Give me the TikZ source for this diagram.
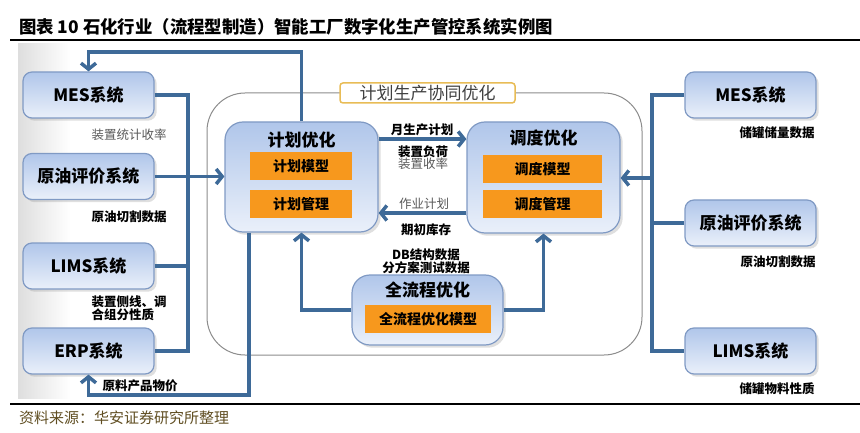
\documentclass[tikz,border=0pt]{standalone}
\usepackage{fontspec}
\setmainfont{Noto Sans CJK SC}
\usetikzlibrary{arrows.meta,shadows}
\definecolor{linkblue}{RGB}{62,106,152}
\definecolor{boxtop}{RGB}{176,198,234}
\definecolor{boxbot}{RGB}{234,240,250}
\definecolor{boxline}{RGB}{128,154,196}
\definecolor{modorange}{RGB}{247,152,29}
\definecolor{tagline}{RGB}{232,188,86}
\definecolor{srcbrown}{RGB}{96,78,34}

\begin{document}
\begin{tikzpicture}[x=1pt,y=-1pt,
  sys/.style={rounded corners=9pt,draw=boxline,line width=1.2pt,top color=boxtop,bottom color=boxbot,
    drop shadow={opacity=.25},minimum width=131pt,minimum height=46pt,inner sep=0pt,
    font=\fontsize{17}{17}\selectfont\bfseries},
  opt/.style={sys,rounded corners=18pt},
  ttl/.style={inner sep=0pt,font=\fontsize{17}{17}\selectfont\bfseries},
  mdl/.style={fill=modorange,inner sep=0pt,minimum height=28pt,font=\fontsize{14}{14}\selectfont\bfseries},
  lbl/.style={inner sep=0pt,align=left,font=\fontsize{12.5}{13}\selectfont\bfseries},
  thin/.style={inner sep=0pt,text=black!65,font=\fontsize{12.5}{13}\selectfont},
  link/.style={draw=linkblue,line width=3.5pt},
  tip/.style={-{Straight Barb[length=6pt,width=15pt]}}
]
\useasboundingbox (0,0) rectangle (860,433);
\shade[left color=black!13,right color=white] (18,44) rectangle (70,398);

\node[anchor=west,inner sep=0pt,font=\fontsize{17.4}{18}\selectfont\bfseries] (title) at (19,27)
  {图表 10 石化行业（流程型制造）智能工厂数字化生产管控系统实例图};
\draw[line width=1.5pt] (10,40) -- (860,40);
\draw[line width=1.5pt] (10,404) -- (860,404);
\node[anchor=west,inner sep=0pt,text=srcbrown,font=\fontsize{15}{15}\selectfont] (src) at (19,418)
  {资料来源：华安证券研究所整理};

\draw[black!45,line width=1pt,rounded corners=38pt] (207,93) rectangle (642,355);
\node[draw=tagline,line width=1.5pt,fill=white,rounded corners=3pt,minimum width=175pt,minimum height=20pt,
  inner sep=0pt,text=black!75,font=\fontsize{17}{17}\selectfont] (tag) at (427.5,93) {计划生产协同优化};

\node[sys] (mesL) at (88.5,95) {MES系统};
\node[sys] (crudeL) at (88.5,176.5) {原油评价系统};
\node[sys] (limsL) at (88.5,266) {LIMS系统};
\node[sys] (erpL) at (88.5,351) {ERP系统};
\node[sys] (mesR) at (750.5,95) {MES系统};
\node[sys] (crudeR) at (750.5,223) {原油评价系统};
\node[sys] (limsR) at (750.5,351) {LIMS系统};

\node[opt,minimum width=153pt,minimum height=110pt] (plan) at (301.5,177) {};
\node[opt,minimum width=153pt,minimum height=111pt] (disp) at (543.5,177.5) {};
\node[opt,minimum width=151pt,minimum height=70pt] (full) at (427.5,310) {};
\node[ttl] (plan-t) at (301.5,140) {计划优化};
\node[ttl] (disp-t) at (543.5,138) {调度优化};
\node[ttl] (full-t) at (427.5,290) {全流程优化};
\node[mdl,minimum width=102pt] (plan-m) at (301,166) {计划模型};
\node[mdl,minimum width=102pt] (plan-g) at (301,204) {计划管理};
\node[mdl,minimum width=119pt] (disp-m) at (542.5,169) {调度模型};
\node[mdl,minimum width=119pt] (disp-g) at (542.5,204) {调度管理};
\node[mdl,minimum width=126pt] (full-m) at (428,319) {全流程优化模型};

\node[thin] (l1) at (129,135) {装置统计收率};
\node[lbl] (l2) at (129,217) {原油切割数据};
\node[lbl] (l3) at (129,308) {装置侧线、调\\合组分性质};
\node[lbl] (l4) at (140,386) {原料产品物价};
\node[lbl] (c1) at (422,130) {月生产计划};
\node[lbl] (c2) at (423,152) {装置负荷};
\node[thin] (c3) at (423,164) {装置收率};
\node[thin] (c4) at (424,204) {作业计划};
\node[lbl] (c5) at (426,230) {期初库存};
\node[lbl,align=center] (c6) at (426,261.5) {DB结构数据\\分方案测试数据};
\node[lbl] (r1) at (777,133) {储罐储量数据};
\node[lbl] (r2) at (778,262) {原油切割数据};
\node[lbl] (r3) at (777,389) {储罐物料性质};

\coordinate (busL) at (188,0);
\coordinate (busR) at (652,0);
\coordinate (fwd) at (0,139);
\coordinate (back) at (0,213);
\coordinate (inR) at (0,178);
\coordinate (topbend) at (0,52);
\coordinate (botbend) at (249,395);

\draw[link] (mesL.east) -| (busL |- erpL.east) -- (erpL.east);
\draw[link] (limsL.east) -- (limsL.east -| busL);
\draw[link,tip] (crudeL.east) -- (crudeL.east -| plan.west);
\draw[link,tip] (plan.north) -- (plan.north |- topbend) -| (mesL.north);
\draw[link,tip] (plan.south -| botbend) -- (botbend) -| (erpL.south);
\draw[link,tip] (plan.east |- fwd) -- (disp.west |- fwd);
\draw[link,tip] (disp.west |- back) -- (plan.east |- back);
\draw[link,tip] (full.west) -| (plan.south);
\draw[link,tip] (full.east) -| (disp.south);
\draw[link] (mesR.west) -| (busR |- limsR.west) -- (limsR.west);
\draw[link] (crudeR.west) -- (crudeR.west -| busR);
\draw[link,tip] (busR |- inR) -- (disp.east |- inR);
\end{tikzpicture}
\end{document}
